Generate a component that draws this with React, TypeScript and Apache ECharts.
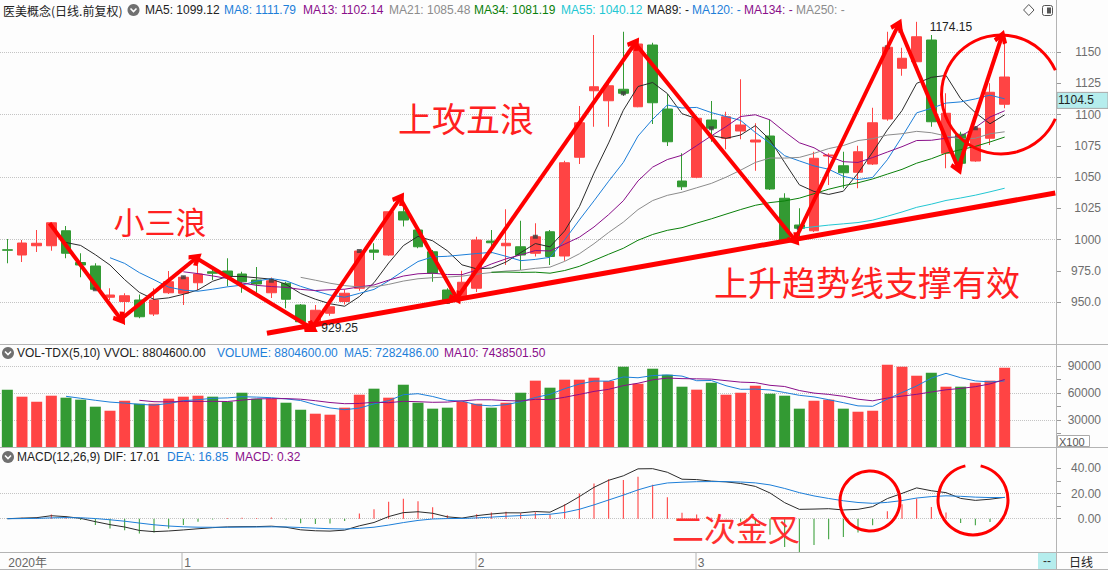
import React, { useEffect, useRef } from 'react';
import * as echarts from 'echarts';

// ---------- data ----------
const opens = [
  991.8, 987.6, 995, 995, 1007, 981.6, 978.8, 953.8, 950.4, 951.6,
  940.4, 957.4, 957, 965.4, 974.2, 974.8, 972.4, 967.6, 957.4, 965,
  947.6, 931.6, 941, 950.4, 961, 991.6, 987.6, 1022.2, 1007.6, 990.2,
  959.6, 954.8, 961, 998.8, 995, 994.2, 989, 1006.2, 986.8, 1065.8,
  1119, 1111, 1120.2, 1106.2, 1155.6, 1104.4, 1046.8, 1049.8, 1095.6, 1081,
  1086.8, 1078, 1082.8, 1033, 1011.6, 1007, 1066.8, 1059, 1053.8, 1060.4,
  1096.4, 1137, 1142.2, 1159.6, 1069, 1084.2, 1062.8, 1081, 1108.2,
];
const closes = [
  991.4, 997.2, 997, 1013.4, 989, 979.6, 960.2, 955.6, 955, 938.2,
  951.6, 966.2, 969.8, 972.4, 973, 970.8, 966.2, 964.4, 967, 952.2,
  934.2, 943.4, 946.2, 957, 990.8, 989.8, 1022.2, 1015.6, 994.2, 973,
  950, 965.8, 999.6, 997.4, 997, 987.6, 1002.2, 986.4, 1061.4, 1093.4,
  1122.2, 1123, 1117, 1156.4, 1109.4, 1078.2, 1042.2, 1097, 1089, 1098.2,
  1091.6, 1079.6, 1040.4, 998.2, 1009, 1065, 1067.6, 1053.4, 1070.2, 1093.4,
  1153.8, 1145, 1162.2, 1094.2, 1101, 1061, 1089, 1117.8, 1130,
];
const lows = [
  981, 982, 990, 991, 985, 969.8, 959.6, 951.6, 931.6, 937,
  938.8, 956.4, 947.6, 959.6, 967.6, 962.6, 957.4, 957.4, 953.2, 945,
  934, 929.25, 939, 948, 959, 983.6, 987, 1010.4, 993, 966.2,
  948.4, 953.2, 958, 989, 979.6, 975.6, 986.4, 979.6, 983, 1060.4,
  1090.2, 1090.2, 1114.8, 1105.8, 1092.4, 1074.8, 1039.6, 1049, 1078.2, 1072.2,
  1080.2, 1055, 1039.6, 998, 999.6, 1006, 1043.6, 1041, 1041, 1059.6,
  1095, 1131, 1142, 1090.2, 1057, 1056.4, 1062.2, 1075.6, 1105,
];
const highs = [
  1000.4, 999.6, 1007.6, 1014, 1010.8, 989, 981, 961, 957, 956,
  961, 974.8, 970.8, 979.6, 978, 985, 974.2, 978, 969.6, 966.2,
  948.4, 947.6, 948, 960, 991.6, 997, 1022.2, 1029, 1010.4, 991.6,
  961, 975, 1002.2, 1007.6, 1024.2, 1015, 1013, 1007.6, 1063, 1106.8,
  1163.6, 1129, 1166.2, 1158, 1157.4, 1116.4, 1069, 1098.8, 1110.8, 1102.2,
  1128.2, 1093, 1095.6, 1037, 1025, 1070.2, 1069, 1070.2, 1075, 1105.4,
  1166.2, 1153.4, 1174.15, 1163.6, 1117, 1086.2, 1090.8, 1125, 1158.2,
];
// volume in hundreds (axis is "X100")
const volumes = [
  63700, 55900, 50300, 57000, 54800, 52600, 44800, 40300, 51400, 48100,
  48100, 53700, 55900, 57000, 55900, 50300, 60300, 53700, 53700, 49200,
  41400, 37000, 35900, 43700, 58100, 64800, 54800, 69200, 49200, 42600,
  43700, 50300, 48100, 43700, 49200, 60300, 73700, 65900, 74800, 74800,
  77000, 73300, 89200, 70300, 87000, 80300, 67000, 63700, 71400, 58100,
  60300, 68100, 59200, 57000, 42600, 51400, 52600, 42600, 39200, 40300,
  91400, 89200, 79200, 82500, 67000, 67000, 71400, 73700, 88046,
];
const slotCount = 72; // 69 trading days + empty room on the right
const monthLabels: Record<number, string> = { 0: '2020年', 12: '1', 32: '2', 47: '3' };
const flagIdx = [6, 12, 18, 24, 30, 36, 42, 48, 54, 60, 66];
const maPeriods = [5, 8, 13, 21, 34, 55];
const maColors = ['#2b2b2b', '#1d7fd9', '#8a0f8a', '#8c8c8c', '#0a800a', '#22c7d3'];
const headerMA = [
  'MA5: 1099.12', 'MA8: 1111.79', 'MA13: 1102.14', 'MA21: 1085.48', 'MA34: 1081.19',
  'MA55: 1040.12', 'MA89: -', 'MA120: -', 'MA134: -', 'MA250: -',
];
// hand-drawn annotation turning points: [day index, price]
const waveTurns: [number, number][] = [
  [2.88, 1013], [7.74, 936.2], [12.88, 985.2], [20.76, 929], [26.78, 1033],
  [30.65, 953], [42.8, 1157], [53.7, 999.6], [60.75, 1171.6], [64.84, 1057], [67.8, 1162.2],
];
const trendEnds: [number, number][] = [[17.7, 925], [71.45, 1037.2]];
const lastPrice = 1104.5;

// ---------- indicator helpers ----------
function movingAvg(src: number[], n: number) {
  return src.map((_, i) => {
    if (i < n - 1) return null;
    let s = 0;
    for (let k = i - n + 1; k <= i; k++) s += src[k];
    return +(s / n).toFixed(3);
  });
}
function ema(src: number[], n: number) {
  const out: number[] = [];
  src.forEach((v, i) => out.push(i === 0 ? v : (2 * v + (n - 1) * out[i - 1]) / (n + 1)));
  return out;
}

const UP = '#ff4444';
const DOWN = '#339a33';
const ANN = '#ff0000';
const FRAME = '#b4b4b4';
const AXIS_TXT = '#6e6e6e';
const LATIN = '"Liberation Sans", Arial, sans-serif';
const CJK = '"Noto Sans CJK SC", sans-serif';

export default function App() {
  const ref = useRef<HTMLDivElement>(null);

  useEffect(() => {
    if (!ref.current) return;
    const chart = echarts.init(ref.current, null, { renderer: 'svg' });
    const cats = Array.from({ length: slotCount }, (_, i) => String(i));
    const candles = opens.map((o, i) => [o, closes[i], lows[i], highs[i]]);
    const ema12 = ema(closes, 12);
    const ema26 = ema(closes, 26);
    const dif = closes.map((_, i) => ema12[i] - ema26[i]);
    const dea = ema(dif, 9);
    const hist = dif.map((d, i) => 2 * (d - dea[i]));

    const arrowSym = 'path://M5,0 L10,8 L7.6,10 L5,5.8 L2.4,10 L0,8 Z';
    const axisLabelBase = { color: AXIS_TXT, fontSize: 12, fontFamily: LATIN, align: 'right', margin: 45 };
    const tick = { show: true, length: 5, lineStyle: { color: '#999' } };
    const clear = 'rgba(0,0,0,0)';
    const dotted = '#c4c4c4';

    const option: any = {
      animation: false,
      backgroundColor: '#fdfdfd',
      textStyle: { fontFamily: LATIN },
      grid: [
        { left: 0, right: 52, top: 0, height: 345, outerBoundsMode: 'none' },
        { left: 0, right: 52, top: 52, height: 250, outerBoundsMode: 'none' },
        { left: 0, right: 52, top: 366, height: 81, outerBoundsMode: 'none' },
        { left: 0, right: 52, top: 468.3, height: 50.4, outerBoundsMode: 'none' },
      ],
      xAxis: [
        { type: 'category', gridIndex: 0, data: cats, show: false, boundaryGap: true },
        { type: 'value', gridIndex: 0, min: -0.5, max: slotCount - 0.5, show: false },
        { type: 'category', gridIndex: 1, data: cats, show: false },
        { type: 'category', gridIndex: 2, data: cats, show: false, boundaryGap: true },
        {
          type: 'category', gridIndex: 3, data: cats, boundaryGap: true, position: 'bottom', offset: 33.8,
          axisLine: { show: false },
          axisTick: { show: false },
          axisLabel: {
            show: true, interval: (i: number) => monthLabels[i] !== undefined,
            formatter: (_v: string, i: number) => monthLabels[i] ?? '',
            align: 'left', margin: 4, padding: [0, 0, 0, 1], color: '#666', fontSize: 12,
            fontFamily: `"Liberation Sans", ${CJK}`,
          },
          splitLine: { show: false },
        },
      ],
      yAxis: [
        { type: 'value', gridIndex: 0, min: 915.6, max: 1191.6, show: false },
        {
          type: 'value', gridIndex: 1, position: 'right', min: 950, max: 1150, interval: 25,
          axisLine: { show: false }, axisTick: tick,
          axisLabel: { ...axisLabelBase, formatter: (v: number) => (v >= 1000 ? String(v) : v.toFixed(1)) },
          splitLine: { show: true, lineStyle: { color: [dotted, clear], type: 'dotted', width: 1 } },
        },
        {
          type: 'value', gridIndex: 2, position: 'right', min: 0, max: 90000, interval: 15000,
          axisLine: { show: false }, axisTick: tick,
          axisLabel: { ...axisLabelBase, formatter: (v: number) => (v > 0 && v % 30000 === 0 ? String(v) : '') },
          splitLine: { show: true, lineStyle: { color: [dotted, clear], type: 'dotted', width: 1 } },
        },
        {
          type: 'value', gridIndex: 3, position: 'right', min: 0, max: 40, interval: 10,
          axisLine: { show: false }, axisTick: tick,
          axisLabel: { ...axisLabelBase, formatter: (v: number) => (v % 20 === 0 ? v.toFixed(2) : '') },
          splitLine: { show: true, lineStyle: { color: [dotted, clear, dotted, clear, clear], type: 'dotted', width: 1 } },
        },
      ],
      series: [
        {
          type: 'candlestick', name: 'K', xAxisIndex: 0, yAxisIndex: 0, data: candles, barWidth: 10, z: 2,
          itemStyle: { color: UP, color0: DOWN, borderColor: UP, borderColor0: DOWN, borderWidth: 1 },
          markPoint: {
            silent: true, symbol: 'circle', symbolSize: 2, itemStyle: { color: clear },
            label: { show: true, position: 'right', color: '#222', fontSize: 12, fontFamily: LATIN,
              formatter: (p: any) => String(p.value) },
            data: [
              { type: 'max', valueDim: 'highest', label: { offset: [7, 5] } },
              { type: 'min', valueDim: 'lowest', label: { offset: [0, 0] } },
            ],
          },
        },
        ...maPeriods.map((n, k) => ({
          type: 'line', name: 'MA' + n, xAxisIndex: 0, yAxisIndex: 0, data: movingAvg(closes, n),
          showSymbol: false, symbol: 'none', z: 3, lineStyle: { color: maColors[k], width: 1 },
        })),
        {
          type: 'scatter', name: 'flag', xAxisIndex: 0, yAxisIndex: 0, z: 4, symbol: 'rect', symbolSize: [5, 4],
          itemStyle: { color: '#3c3c3c' },
          data: closes.map((c, i) => (flagIdx.includes(i) ? c : null)),
        },
        {
          type: 'line', name: 'waves', xAxisIndex: 1, yAxisIndex: 0, data: [], z: 10,
          markLine: {
            silent: true, animation: false, symbol: ['none', arrowSym], symbolSize: 14,
            lineStyle: { color: ANN, width: 4, type: 'solid', opacity: 1 },
            itemStyle: { color: ANN },
            label: { show: false }, emphasis: { disabled: true },
            data: waveTurns.slice(1).map((p, i) => [{ coord: waveTurns[i] }, { coord: p }]),
          },
        },
        {
          type: 'line', name: 'trend', xAxisIndex: 1, yAxisIndex: 0, data: [], z: 10,
          markLine: {
            silent: true, animation: false, symbol: ['none', 'none'],
            lineStyle: { color: ANN, width: 5, type: 'solid', opacity: 1 },
            label: { show: false }, emphasis: { disabled: true },
            data: [[{ coord: trendEnds[0] }, { coord: trendEnds[1] }]],
          },
        },
        {
          type: 'bar', name: 'VOL', xAxisIndex: 3, yAxisIndex: 2, barWidth: 11, clip: false,
          data: volumes.map((v, i) => ({ value: v, itemStyle: { color: closes[i] > opens[i] ? UP : DOWN } })),
        },
        {
          type: 'line', name: 'VMA5', xAxisIndex: 3, yAxisIndex: 2, data: movingAvg(volumes, 5), clip: false,
          showSymbol: false, symbol: 'none', lineStyle: { color: '#1d7fd9', width: 1 }, z: 3,
        },
        {
          type: 'line', name: 'VMA10', xAxisIndex: 3, yAxisIndex: 2, data: movingAvg(volumes, 10), clip: false,
          showSymbol: false, symbol: 'none', lineStyle: { color: '#8a0f8a', width: 1 }, z: 3,
        },
        {
          type: 'bar', name: 'MACD', xAxisIndex: 4, yAxisIndex: 3, barWidth: 1, clip: false,
          data: hist.map((v) => ({ value: +v.toFixed(3), itemStyle: { color: v >= 0 ? '#ff3333' : '#2f9a2f' } })),
        },
        {
          type: 'line', name: 'DIF', xAxisIndex: 4, yAxisIndex: 3, clip: false, data: dif.map((v) => +v.toFixed(3)),
          showSymbol: false, symbol: 'none', lineStyle: { color: '#2b2b2b', width: 1 }, z: 3,
        },
        {
          type: 'line', name: 'DEA', xAxisIndex: 4, yAxisIndex: 3, clip: false, data: dea.map((v) => +v.toFixed(3)),
          showSymbol: false, symbol: 'none', lineStyle: { color: '#1d7fd9', width: 1 }, z: 3,
        },
      ],
    };
    chart.setOption(option);

    const py = chart.convertToPixel({ yAxisIndex: 0 } as any, lastPrice) as unknown as number;
    const monthX = Object.keys(monthLabels)
      .map(Number)
      .filter((i) => i !== 0)
      .map((i) => Math.round(chart.convertToPixel({ xAxisIndex: 4 } as any, String(i)) as unknown as number) - 1.5);

    const hLine = (x1: number, y1: number, x2: number, y2: number) => ({
      type: 'line', silent: true, z: 50, shape: { x1, y1, x2, y2 }, style: { stroke: FRAME, lineWidth: 1 },
    });
    const txt = (x: number, y: number, text: string, fill: string, font: string, align = 'left') => ({
      type: 'text', silent: true, z: 60, x, y, style: { text, fill, font, align, verticalAlign: 'middle' },
    });
    const icon = (cx: number, cy: number) => ({
      type: 'group', silent: true, z: 60,
      children: [
        { type: 'circle', shape: { cx, cy, r: 6 }, style: { fill: '#707070' } },
        { type: 'polyline', shape: { points: [[cx - 3, cy - 1.5], [cx, cy + 1.5], [cx + 3, cy - 1.5]] },
          style: { stroke: '#fff', lineWidth: 1.6, fill: 'none' } },
      ],
    });
    const maHeaderX = [145, 224, 303, 389, 474, 561, 647, 692, 744, 796];
    const maHeaderColor = ['#222', maColors[1], maColors[2], maColors[3], maColors[4], maColors[5], '#222', maColors[1], maColors[2], maColors[3]];
    const hdr = `12px ${LATIN}`;

    const graphic: any[] = [
      // frame
      hLine(1056.5, 0, 1056.5, 570),
      hLine(0, 344.5, 1108, 344.5),
      hLine(0, 447.5, 1108, 447.5),
      hLine(0, 552.5, 1108, 552.5),
      hLine(0, 569.5, 1108, 569.5),
      ...monthX.map((x) => hLine(x + 0.5, 552.5, x + 0.5, 569.5)),
      // main header
      txt(3, 10, '医美概念(日线.前复权)', '#222', `12px ${CJK}`),
      icon(133.5, 10),
      ...headerMA.map((t, i) => txt(maHeaderX[i], 10, t, maHeaderColor[i], hdr)),
      { type: 'polygon', silent: true, z: 60, shape: { points: [[1028.8, 4.5], [1034, 10], [1028.8, 15.5], [1023.6, 10]] },
        style: { stroke: '#555', fill: 'none', lineWidth: 1 } },
      { type: 'rect', silent: true, z: 60, shape: { x: 1042.5, y: 5.5, width: 10, height: 10, r: 2 },
        style: { stroke: '#555', fill: 'none', lineWidth: 1 } },
      { type: 'rect', silent: true, z: 60, shape: { x: 1047, y: 7.5, width: 4, height: 6 }, style: { fill: '#555' } },
      // volume header
      icon(8, 353),
      txt(17, 353, 'VOL-TDX(5,10) VVOL: 8804600.00', '#222', hdr),
      txt(217, 353, 'VOLUME: 8804600.00', maColors[1], hdr),
      txt(344, 353, 'MA5: 7282486.00', maColors[1], hdr),
      txt(444, 353, 'MA10: 7438501.50', maColors[2], hdr),
      // macd header
      icon(8, 457),
      txt(17, 457, 'MACD(12,26,9) DIF: 17.01', '#222', hdr),
      txt(167, 457, 'DEA: 16.85', maColors[1], hdr),
      txt(235, 457, 'MACD: 0.32', maColors[2], hdr),
      // X100 box
      { type: 'rect', silent: true, z: 60, shape: { x: 1057.5, y: 435.5, width: 32, height: 11 },
        style: { stroke: '#aaa', fill: '#fff', lineWidth: 1 } },
      txt(1059, 441.5, 'X100', '#555', `11px ${LATIN}`),
      // bottom bar
      { type: 'rect', silent: true, z: 60, shape: { x: 1038, y: 553, width: 18, height: 16 }, style: { fill: '#b5eded' } },
      txt(1047, 561, '--', '#333', hdr, 'center'),
      txt(1081, 561, '日线', '#222', `12px ${CJK}`, 'center'),
      // price tag
      { type: 'rect', silent: true, z: 60, shape: { x: 1057, y: py - 16.5, width: 51, height: 16 },
        style: { fill: '#b5eded', stroke: '#a8a8a8', lineWidth: 1 } },
      txt(1058, py - 8.5, String(lastPrice), '#222', hdr),
      // annotations
      txt(160, 220, '小三浪', '#ff2020', `31px ${CJK}`, 'center'),
      txt(466, 117, '上攻五浪', '#ff2020', `34px ${CJK}`, 'center'),
      txt(867, 281, '上升趋势线支撑有效', '#ff2020', `34px ${CJK}`, 'center'),
      txt(736, 527, '二次金叉', '#ff3030', `32px ${CJK}`, 'center'),
      { type: 'arc', silent: true, z: 55, shape: { cx: 1001, cy: 94.5, r: 59.5, startAngle: 0.42, endAngle: Math.PI * 2 - 0.42, clockwise: true },
        style: { stroke: ANN, lineWidth: 3, fill: 'none' } },
      { type: 'circle', silent: true, z: 55, shape: { cx: 870, cy: 501, r: 30 },
        style: { stroke: ANN, lineWidth: 3, fill: 'none' } },
      { type: 'arc', silent: true, z: 55, shape: { cx: 973, cy: 500, r: 35, startAngle: -Math.PI / 2 + 0.22, endAngle: Math.PI * 1.5 - 0.22, clockwise: true },
        style: { stroke: ANN, lineWidth: 3, fill: 'none' } },
    ];
    chart.setOption({ graphic });

    return () => chart.dispose();
  }, []);

  return <div ref={ref} style={{ position: 'fixed', left: 0, top: 0, width: 1108, height: 570 }} />;
}
